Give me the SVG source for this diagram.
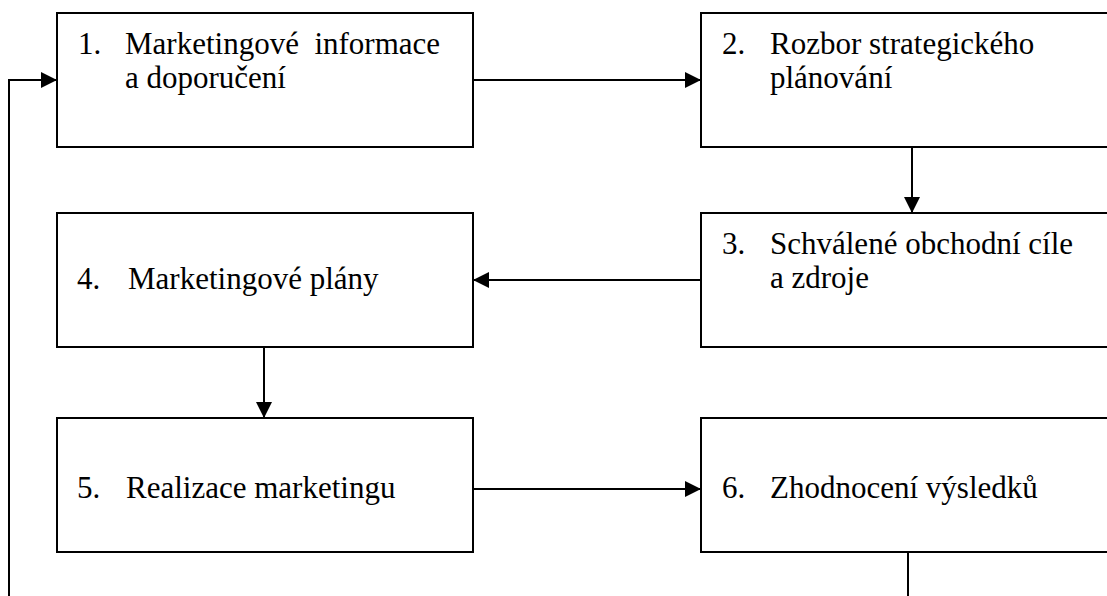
<svg xmlns="http://www.w3.org/2000/svg" width="1107" height="596" viewBox="0 0 1107 596">
<defs>
<style>
.box{fill:#fff;stroke:#000;stroke-width:2}
.t{font-family:'Liberation Serif','Times New Roman',serif;font-size:31px;fill:#000}
.c{fill:none;stroke:#000;stroke-width:2}
</style>
<marker id="ah" viewBox="0 0 16 16" refX="16" refY="8" markerWidth="16" markerHeight="16" markerUnits="userSpaceOnUse" orient="auto">
<path d="M0,0 L16,8 L0,16 Z" fill="#000"/>
</marker>
</defs>
<rect width="1107" height="596" fill="#fff"/>
<g id="connectors">
<line class="c" x1="473" y1="80" x2="701" y2="80" marker-end="url(#ah)"/>
<line class="c" x1="912" y1="147" x2="912" y2="213" marker-end="url(#ah)"/>
<line class="c" x1="701" y1="280" x2="473" y2="280" marker-end="url(#ah)"/>
<line class="c" x1="264" y1="347" x2="264" y2="418" marker-end="url(#ah)"/>
<line class="c" x1="473" y1="489" x2="701" y2="489" marker-end="url(#ah)"/>
<line class="c" x1="908" y1="552" x2="908" y2="600"/>
<polyline class="c" points="9,600 9,80 57,80" marker-end="url(#ah)"/>
</g>
<g id="n1">
<rect class="box" x="57" y="13" width="416" height="134"/>
<text class="t" x="78" y="54">1.</text>
<text class="t" x="125" y="54" xml:space="preserve">Marketingové  informace</text>
<text class="t" x="125" y="88">a doporučení</text>
</g>
<g id="n2">
<rect class="box" x="701" y="13" width="420" height="134"/>
<text class="t" x="722" y="54">2.</text>
<text class="t" x="770" y="54">Rozbor strategického</text>
<text class="t" x="770" y="88">plánování</text>
</g>
<g id="n3">
<rect class="box" x="701" y="213" width="420" height="134"/>
<text class="t" x="722" y="254">3.</text>
<text class="t" x="770" y="254">Schválené obchodní cíle</text>
<text class="t" x="770" y="288">a zdroje</text>
</g>
<g id="n4">
<rect class="box" x="57" y="213" width="416" height="134"/>
<text class="t" x="77" y="289">4.</text>
<text class="t" x="128" y="289">Marketingové plány</text>
</g>
<g id="n5">
<rect class="box" x="57" y="418" width="416" height="134"/>
<text class="t" x="77" y="498">5.</text>
<text class="t" x="126" y="498">Realizace marketingu</text>
</g>
<g id="n6">
<rect class="box" x="701" y="418" width="420" height="134"/>
<text class="t" x="722" y="498">6.</text>
<text class="t" x="770" y="498">Zhodnocení výsledků</text>
</g>
</svg>
